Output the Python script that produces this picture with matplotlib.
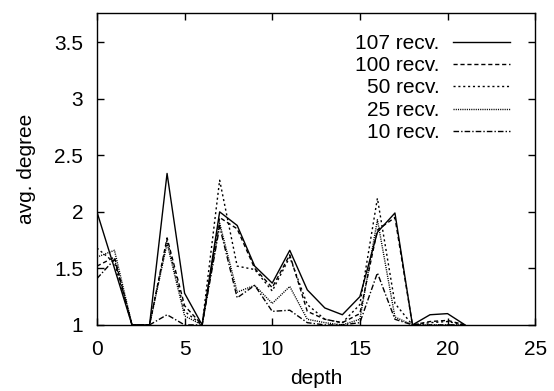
import matplotlib
matplotlib.use("Agg")
import matplotlib.pyplot as plt

plt.rcParams["font.family"] = ["Liberation Sans", "DejaVu Sans"]

depth = list(range(22))

recv_107 = [2.00, 1.50, 1.00, 1.00, 2.34, 1.28, 1.00, 2.00, 1.88, 1.52, 1.37, 1.66,
            1.31, 1.15, 1.09, 1.25, 1.82, 1.99, 1.00, 1.09, 1.10, 1.00]
recv_100 = [1.52, 1.60, 1.00, 1.00, 1.77, 1.17, 1.00, 1.95, 1.85, 1.50, 1.33, 1.62,
            1.12, 1.05, 1.02, 1.10, 1.84, 1.95, 1.00, 1.03, 1.04, 1.00]
recv_50 = [1.68, 1.55, 1.00, 1.00, 1.75, 1.12, 1.00, 2.28, 1.52, 1.49, 1.30, 1.60,
           1.18, 1.05, 1.02, 1.18, 2.12, 1.19, 1.00, 1.02, 1.03, 1.00]
recv_25 = [1.60, 1.66, 1.00, 1.00, 1.72, 1.08, 1.00, 1.90, 1.29, 1.35, 1.19, 1.34,
           1.05, 1.02, 1.00, 1.05, 1.93, 1.07, 1.00, 1.00, 1.00, 1.00]
recv_10 = [1.41, 1.58, 1.00, 1.00, 1.09, 1.00, 1.00, 1.87, 1.24, 1.35, 1.12, 1.13,
           1.02, 1.00, 1.00, 1.02, 1.46, 1.05, 1.00, 1.00, 1.00, 1.00]

labels = ["107 recv.", "100 recv.", "50 recv.", "25 recv.", "10 recv."]
series = [recv_107, recv_100, recv_50, recv_25, recv_10]
styles = ["-", (0, (3, 2)), (0, (1.5, 2)), (0, (0.8, 0.8)), (0, (4, 1.5, 1, 1.5))]

FS = 15

fig = plt.figure(figsize=(5.54, 3.91), dpi=100)
ax = fig.add_axes([0.175, 0.169, 0.791, 0.798])

for ys, lab, ls in zip(series, labels, styles):
    ax.plot(depth, ys, color="black", linewidth=1.0, linestyle=ls, label=lab)

ax.set_xlim(0, 25)
ax.set_ylim(1, 3.76)
ax.set_xticks([0, 5, 10, 15, 20, 25])
ax.set_yticks([1, 1.5, 2, 2.5, 3, 3.5])
ax.set_yticklabels(["1", "1.5", "2", "2.5", "3", "3.5"])
ax.tick_params(direction="in", top=True, right=True, length=5, width=1,
               labelsize=FS)
ax.tick_params(axis="x", pad=11)
ax.tick_params(axis="y", pad=10)
for s in ax.spines.values():
    s.set_linewidth(1.0)

ax.set_xlabel("depth", fontsize=FS, labelpad=7)
ax.set_ylabel("avg. degree", fontsize=FS, labelpad=13)

ax.legend(loc="upper right", bbox_to_anchor=(0.943, 0.933), frameon=False,
          markerfirst=False, fontsize=FS, handlelength=2.75, labelspacing=0.16,
          borderpad=0.0, borderaxespad=0.0, handletextpad=0.65)

fig.savefig("out.png", dpi=100)
